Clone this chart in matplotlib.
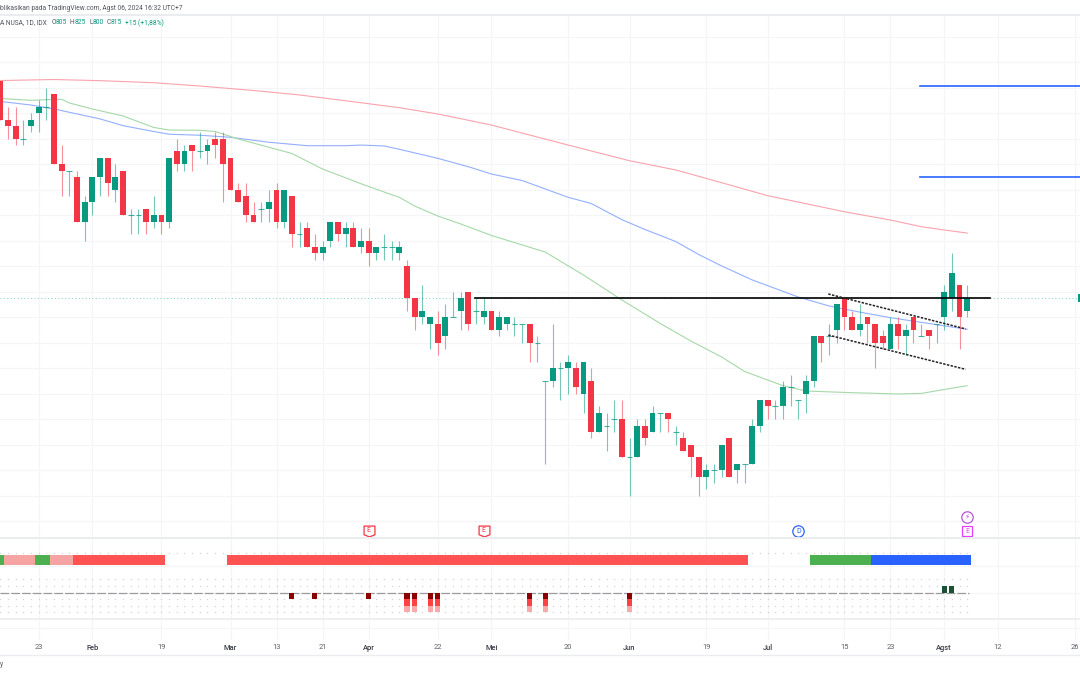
#!/usr/bin/env python3

import matplotlib
matplotlib.use("Agg")
import matplotlib.pyplot as plt
from matplotlib.path import Path

plt.rcParams['font.family'] = ['Roboto', 'DejaVu Sans']

# Candles, one row per trading day in the picture
opens = [985, 955, 950, 940, 950, 960, 965, 975, 920, 915, 910, 875, 890, 910, 925, 900, 915, 880, 880, 885,
         875, 880, 875, 930, 920, 935, 930, 930, 940, 940, 925, 900, 895, 880, 885, 885, 900, 875, 895, 865,
         870, 855, 850, 860, 875, 865, 870, 855, 860, 850, 855, 855, 850, 840, 815, 800, 795, 795, 785, 800,
         805, 820, 805, 800, 805, 790, 795, 795, 795, 795, 780, 750, 750, 760, 760, 760, 740, 750, 710, 715,
         720, 720, 690, 690, 715, 710, 725, 725, 710, 705, 700, 690, 675, 680, 680, 705, 680, 685, 685, 715,
         735, 730, 730, 745, 735, 740, 750, 785, 785, 790, 815, 800, 790, 800, 795, 785, 775, 795, 785, 800,
         785, 790, 795, 800, 815, 825, 805]
highs = [985, 965, 965, 955, 960, 970, 980, 975, 935, 915, 915, 895, 910, 925, 925, 920, 915, 885, 885, 885,
         895, 880, 925, 940, 935, 935, 945, 940, 945, 945, 925, 905, 905, 890, 890, 900, 905, 900, 895, 875,
         875, 865, 860, 875, 875, 875, 875, 870, 870, 855, 865, 860, 860, 845, 815, 825, 800, 805, 810, 820,
         820, 820, 815, 815, 805, 805, 800, 800, 795, 795, 785, 750, 795, 765, 770, 765, 765, 760, 730, 725,
         735, 735, 705, 720, 720, 730, 725, 725, 715, 710, 700, 690, 685, 685, 700, 705, 685, 685, 720, 735,
         735, 735, 750, 755, 735, 755, 785, 785, 795, 810, 815, 805, 810, 800, 795, 790, 800, 800, 795, 800,
         795, 790, 795, 825, 850, 825, 825]
lows = [955, 940, 935, 935, 945, 945, 955, 920, 895, 895, 875, 860, 880, 895, 895, 890, 880, 865, 865, 865,
        870, 865, 870, 915, 915, 915, 925, 920, 925, 890, 900, 890, 875, 875, 875, 875, 870, 870, 855, 855,
        855, 845, 845, 855, 860, 855, 855, 850, 840, 845, 845, 845, 845, 805, 790, 795, 775, 770, 775, 800,
        790, 790, 795, 795, 790, 785, 790, 785, 780, 765, 765, 685, 745, 735, 740, 740, 725, 705, 710, 695,
        710, 690, 660, 690, 700, 710, 710, 710, 700, 695, 675, 660, 665, 670, 675, 675, 670, 670, 685, 710,
        720, 720, 720, 730, 720, 725, 745, 765, 770, 780, 790, 790, 785, 780, 760, 775, 775, 775, 770, 780,
        785, 775, 780, 790, 805, 775, 800]
closes = [955, 950, 940, 940, 955, 965, 965, 920, 915, 915, 875, 890, 910, 925, 905, 910, 880, 880, 880, 875,
          880, 875, 925, 920, 930, 930, 930, 935, 935, 920, 900, 890, 880, 875, 885, 890, 875, 900, 865, 865,
          855, 850, 855, 875, 865, 870, 855, 860, 850, 855, 855, 855, 855, 815, 800, 805, 800, 780, 800, 800,
          815, 795, 805, 805, 790, 800, 800, 795, 795, 780, 780, 750, 760, 760, 765, 745, 765, 710, 725, 715,
          720, 690, 690, 715, 705, 725, 725, 720, 710, 695, 690, 675, 680, 680, 700, 675, 685, 685, 715, 735,
          730, 730, 745, 745, 735, 750, 785, 780, 785, 810, 800, 790, 795, 795, 780, 780, 795, 785, 790, 790,
          785, 785, 795, 820, 835, 800, 815]

# Moving averages, sampled by eye at these candle numbers
ma_red_idx = [0, 7, 13, 20, 26, 33, 39, 47, 52, 57, 64, 74, 82, 88, 94, 100, 110, 116, 120, 123, 126]
ma_red = [985.6, 986.4, 985.5, 983.9, 981.3, 977.8, 974.3, 968.2, 964.3, 959.4, 950.7, 935, 922.7, 915.5,
          905.5, 895.3, 882.7, 876.2, 871, 868.4, 866]
ma_blue_idx = [0, 4, 7, 13, 16, 20, 22, 26, 30, 35, 40, 45, 47, 50, 52, 57, 61, 64, 68, 74, 77, 81, 84, 88,
               91, 94, 98, 104, 108, 112, 116, 120, 126]
ma_blue = [969.2, 966.4, 963.3, 955.5, 950.2, 945.6, 943.5, 942.7, 941.1, 937.2, 934.5, 934.5, 935, 934.3,
           931.7, 924.6, 918, 912.3, 907.2, 894, 889.2, 876.5, 868.8, 859.4, 849.2, 840.2, 829.2, 815.8,
           808.8, 804, 799.6, 796, 790.5]
ma_green_idx = [0, 4, 6, 8, 9, 12, 16, 20, 22, 26, 28, 31, 38, 42, 47, 50, 52, 54, 57, 60, 64, 71, 76, 81,
                86, 90, 94, 97, 102, 105, 111, 117, 120, 123, 126]
ma_green = [971.5, 970.1, 970.6, 970.9, 968, 963.3, 957.8, 948.8, 946.8, 946.6, 945.6, 939.8, 928.4, 916.2,
            904.7, 898.2, 894, 887.2, 879.4, 873.1, 864.1, 851.1, 833.1, 813.5, 795.1, 781.3, 768.8, 757.4,
            746.3, 742.1, 740.8, 739.8, 740.2, 743.3, 746.3]

# Drawn lines: [start idx, end idx], [start price, end price]
resistance_x = [61.9, 129]
resistance_y = [815, 815]
channel_x = [107.9, 125.8]
channel_top = [818.2, 790.8]
channel_bottom = [786, 759.1]
target_x = [119.9, 141]
target_prices = [981.3, 910.2]

# Event badges
earn_idx = [48, 63]
div_idx = [104]
last_idx = 126

# Status strip under the chart
strip_start = [-1, 1, 5, 7, 10, 30, 106, 114]
strip_stop = [1, 5, 7, 10, 22, 98, 114, 127]
strip_colors = ['#4caf50', '#f5a3a3', '#4caf50', '#f5a3a3', '#ff5252', '#ff5252', '#4caf50', '#2962ff']

# Squeeze style histogram, only non-zero days
hist_idx = [38, 41, 48, 53, 54, 56, 57, 69, 71, 82, 123, 124]
hist_val = [-1, -1, -1, -3, -3, -3, -3, -3, -3, -3, 1, 1]
hist_dot_rows = [6, 2, 1, -1, -2, -3]

# Time axis
tick_idx = [5, 12, 21, 30, 36, 42, 48, 57, 64, 74, 82, 92, 100, 110, 116, 123, 130, 140]
tick_labels = ['23', 'Feb', '19', 'Mar', '13', '21', 'Apr', '22', 'Mei', '20', 'Jun', '19', 'Jul', '15', '23',
               'Agst', '12', '26']
month_labels = ['Feb', 'Mar', 'Apr', 'Mei', 'Jun', 'Jul', 'Agst']
price_grid = list(range(640, 1040, 20))

TEAL = '#089981'
RED = '#f23645'
GRID = '#f4f5f7'
SEP = '#ebecef'

W, H = 1080, 675
fig = plt.figure(figsize=(W / 100, H / 100), dpi=100, facecolor='white')


def pane(top, bottom):
    ax = fig.add_axes([0, 1 - bottom / H, 1, (bottom - top) / H])
    for side in ax.spines.values():
        side.set_visible(False)
    ax.set_xlim(-0.04, 140.7)
    ax.set_yticks([])
    ax.set_xticks([])
    for t in tick_idx:
        ax.axvline(t, color=GRID, lw=0.8, zorder=0)
    return ax


# ---- price pane ----
ax = pane(15, 538.3)
ax.set_ylim(626.6, 1037)
for p in price_grid:
    ax.axhline(p, color=GRID, lw=0.8, zorder=0)

ax.axhline(closes[-1], color=TEAL, lw=0.7, ls=(0, (1, 2.5)), alpha=0.5, zorder=1)
ax.bar(140.6, 6, bottom=812, width=0.3, color=TEAL, zorder=2)

ax.plot(ma_red_idx, ma_red, color='#f9a3ac', lw=0.8, zorder=2)
ax.plot(ma_blue_idx, ma_blue, color='#93afff', lw=0.8, zorder=2)
ax.plot(ma_green_idx, ma_green, color='#a6d8a8', lw=0.8, zorder=2)

for i in range(len(opens)):
    col = RED if closes[i] < opens[i] else TEAL
    ax.vlines(i, lows[i], highs[i], color=col, lw=0.8, alpha=0.55, zorder=3)
    if opens[i] == closes[i]:
        ax.hlines(opens[i], i - 0.38, i + 0.38, color=col, lw=0.8, alpha=0.75, zorder=4)
    else:
        ax.bar(i, abs(closes[i] - opens[i]), bottom=min(opens[i], closes[i]), width=0.76, color=col,
               edgecolor=col, linewidth=0, zorder=4)

ax.plot(resistance_x, resistance_y, color='black', lw=1.2, zorder=5)
ax.plot(channel_x, channel_top, color='#222222', lw=1.1, ls=(0, (1.6, 0.9)), zorder=5)
ax.plot(channel_x, channel_bottom, color='#222222', lw=1.1, ls=(0, (1.6, 0.9)), zorder=5)
for p in target_prices:
    ax.plot(target_x, [p, p], color='#2962ff', lw=1.2, zorder=5)

# badges
shield = Path([(-1, 1), (1, 1), (1, -0.6), (0, -1), (-1, -0.6), (-1, 1)], closed=True)
for i in earn_idx:
    ax.plot(i, 632.3, marker=shield, ms=7.8, mfc='white', mec=RED, mew=0.9, zorder=6)
    ax.text(i, 632.6, 'E', color=RED, fontsize=5, ha='center', va='center', zorder=7)
ax.plot(div_idx, [632.3], marker='o', ms=8.2, mfc='white', mec='#2962ff', mew=0.9, zorder=6)
ax.text(div_idx[0], 632.3, 'D', color='#2962ff', fontsize=5, ha='center', va='center', zorder=7)
ax.plot(last_idx, 632.3, marker='s', ms=7.6, mfc='white', mec='#e040fb', mew=0.9, zorder=6)
ax.text(last_idx, 632.3, 'E', color='#e040fb', fontsize=5, ha='center', va='center', zorder=7)
ax.plot(last_idx, 643, marker='o', ms=8.2, mfc='white', mec='#ba55d3', mew=0.9, zorder=6)
ax.text(last_idx, 643, '\u26a1', color='#ba55d3', fontsize=5.2, ha='center', va='center', zorder=7,
        family='DejaVu Sans')

# ---- indicator pane ----
ax2 = pane(539, 619)
ax2.set_ylim(-4, 8.12)
ax2.axhline(4, color=GRID, lw=0.8, zorder=0)
ax2.axhline(0, color=GRID, lw=0.8, zorder=0)
for row in hist_dot_rows:
    ax2.plot(range(len(opens)), [row] * len(opens), ls='none', marker='s', ms=0.9, mfc='#d4d4d8', mew=0,
             zorder=1)
for s, e, c in zip(strip_start, strip_stop, strip_colors):
    ax2.bar((s + e) / 2 - 0.5, 1.47, bottom=4.2, width=e - s, color=c, linewidth=0, zorder=2)
ax2.plot([0, 126.3], [0, 0], color='#9a9a9f', lw=0.9, ls=(0, (7, 1.6)), zorder=2)
hist_reds = ['#8b0000', '#ff4242', '#f8aaaa']
for i, v in zip(hist_idx, hist_val):
    if v > 0:
        ax2.bar(i, v, width=0.66, color='#1b5233', linewidth=0, zorder=3)
    else:
        for lvl in range(-v):
            ax2.bar(i, -1, bottom=-lvl, width=0.66, color=hist_reds[lvl], linewidth=0, zorder=3)

# ---- time axis ----
ax3 = pane(620, 640)
ax3.set_ylim(0, 1)
ax3.axhline(0.6, color=GRID, lw=0.8, zorder=0)
ax3.set_xticks(tick_idx)
ax3.set_xticklabels(tick_labels, fontsize=5.4, color='#5d606b')
ax3.tick_params(axis='x', length=0, pad=2.8)
for lab in ax3.get_xticklabels():
    if lab.get_text() in month_labels:
        lab.set_color('#363a45')
        lab.set_fontweight('medium')


def px_text(x, y, s, **kw):
    fig.text(x / W, 1 - y / H, s, va='center', fontsize=kw.pop('fontsize', 4.75), **kw)


px_text(0, 8, 'blikasikan pada TradingView.com, Agst 06, 2024 16:32 UTC+7', color='#50535e')
px_text(0, 23, 'A NUSA, 1D, IDX', color='#50535e')
for x, s in zip([51.5, 70, 89.5, 106.5], ['O', 'H', 'L', 'C']):
    px_text(x, 23, s, color='#50535e')
for x, s in zip([56, 74.5, 92.5, 111, 125], ['805', '825', '800', '815', '+15 (+1,88%)']):
    px_text(x, 23, s, color=TEAL)
px_text(0, 665, 'y', color='#50535e')

# pane separators
for y, lw in [(14.5, 1.4), (538.3, 1.4), (619.3, 1.2), (655, 1.0)]:
    fig.add_artist(plt.Line2D([0, 1], [1 - y / H, 1 - y / H], color=SEP, lw=lw))

plt.savefig('out.png', dpi=100)
